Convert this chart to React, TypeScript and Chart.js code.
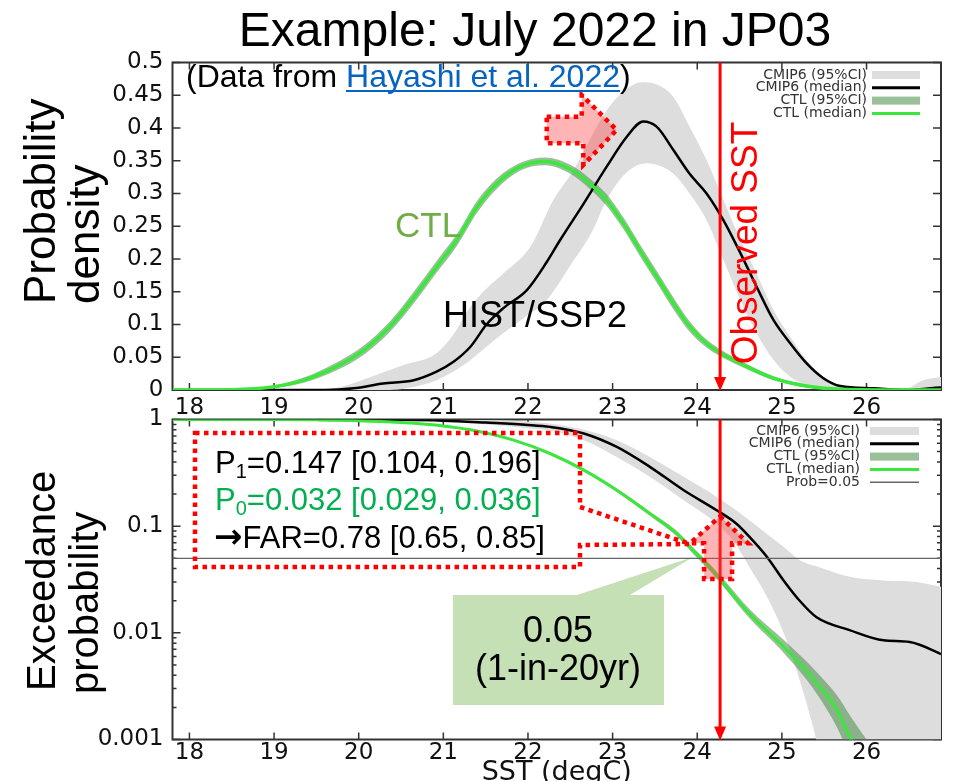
import React, { useEffect, useRef } from 'react';
import { Chart, registerables } from 'chart.js';

Chart.register(...registerables);

// ---------------- axes / constants ----------------
const X_MIN = 17.8;
const X_MAX = 26.88;
const X_TICKS = [18, 19, 20, 21, 22, 23, 24, 25, 26];
const PDF_TICKS = [0, 0.05, 0.1, 0.15, 0.2, 0.25, 0.3, 0.35, 0.4, 0.45, 0.5];
const PDF_TICK_LABELS = ['0', '0.05', '0.1', '0.15', '0.2', '0.25', '0.3', '0.35', '0.4', '0.45', '0.5'];
const EXC_DECADES = [0.001, 0.01, 0.1, 1];
const EXC_DECADE_LABELS = ['0.001', '0.01', '0.1', '1'];
const EXC_MINOR = [2, 3, 4, 5, 6, 7, 8, 9];

const OBS_SST = 24.27;
const PROB_THRESHOLD = 0.05;

const P1 = 0.147;
const P1_CI = [0.104, 0.196];
const P0 = 0.032;
const P0_CI = [0.029, 0.036];
const FAR = 0.78;
const FAR_CI = [0.65, 0.85];

// ---------------- top panel: probability density ----------------
const CTL_PDF_T = [17.8, 18.5, 19.0, 19.35, 19.74, 20.06, 20.37, 20.69, 20.92, 21.16, 21.4, 21.63, 21.91, 22.2, 22.5, 22.73, 22.93, 23.13, 23.32, 23.52, 23.72, 23.91, 24.11, 24.35, 24.58, 24.9, 25.29, 25.69, 26.2, 26.88];
const CTL_PDF_MED = [0, 0.0005, 0.005, 0.015, 0.036, 0.061, 0.097, 0.148, 0.188, 0.229, 0.28, 0.315, 0.341, 0.349, 0.337, 0.315, 0.29, 0.254, 0.214, 0.173, 0.132, 0.097, 0.071, 0.051, 0.036, 0.018, 0.006, 0.001, 0, 0];
const CTL_PDF_HI = [0, 0.001, 0.007, 0.019, 0.042, 0.068, 0.105, 0.157, 0.197, 0.238, 0.289, 0.323, 0.347, 0.355, 0.344, 0.323, 0.299, 0.263, 0.223, 0.182, 0.141, 0.105, 0.077, 0.056, 0.04, 0.021, 0.008, 0.002, 0, 0];
const CTL_PDF_LO = [0, 0, 0.003, 0.011, 0.03, 0.054, 0.089, 0.139, 0.179, 0.22, 0.271, 0.307, 0.335, 0.343, 0.33, 0.307, 0.281, 0.245, 0.205, 0.164, 0.123, 0.089, 0.065, 0.046, 0.032, 0.015, 0.004, 0.0003, 0, 0];

const CMIP_PDF_T = [17.8, 19.6, 19.94, 20.29, 20.65, 20.92, 21.12, 21.32, 21.51, 21.71, 21.99, 22.22, 22.38, 22.66, 22.93, 23.17, 23.36, 23.52, 23.72, 23.91, 24.11, 24.31, 24.51, 24.7, 24.9, 25.1, 25.29, 25.49, 25.69, 26.08, 26.47, 26.7, 26.88];
const CMIP_PDF_MED = [0, 0, 0.0025, 0.01, 0.015, 0.028, 0.043, 0.066, 0.1, 0.125, 0.153, 0.195, 0.229, 0.285, 0.341, 0.387, 0.41, 0.402, 0.366, 0.33, 0.3, 0.259, 0.209, 0.158, 0.107, 0.071, 0.041, 0.018, 0.006, 0.0025, 0, 0.002, 0.004];
const CMIP_PDF_HI_T = [17.8, 19.5, 19.8, 20.14, 20.53, 20.92, 21.12, 21.32, 21.51, 21.71, 22.03, 22.3, 22.54, 22.93, 23.15, 23.35, 23.55, 23.72, 23.91, 24.11, 24.31, 24.51, 24.7, 24.9, 25.1, 25.29, 25.49, 25.69, 26.08, 26.47, 26.67, 26.88];
const CMIP_PDF_HI = [0, 0, 0.005, 0.02, 0.038, 0.056, 0.085, 0.127, 0.155, 0.178, 0.219, 0.29, 0.336, 0.427, 0.458, 0.47, 0.465, 0.447, 0.402, 0.351, 0.29, 0.229, 0.178, 0.122, 0.081, 0.046, 0.02, 0.008, 0.003, 0.003, 0.015, 0.02];
const CMIP_PDF_LO_T = [17.8, 20.3, 20.53, 20.92, 21.24, 21.51, 21.71, 21.95, 22.22, 22.5, 22.75, 22.93, 23.15, 23.4, 23.6, 23.72, 23.91, 24.11, 24.31, 24.51, 24.7, 24.9, 25.1, 25.29, 25.49, 25.69, 26.88];
const CMIP_PDF_LO = [0, 0, 0.002, 0.015, 0.038, 0.066, 0.087, 0.11, 0.137, 0.19, 0.24, 0.29, 0.33, 0.346, 0.34, 0.33, 0.3, 0.259, 0.198, 0.137, 0.087, 0.046, 0.02, 0.008, 0.003, 0, 0];

// ---------------- bottom panel: exceedance probability ----------------
const CMIP_EXC_T = [17.8, 19.5, 20.5, 21.0, 21.5, 22.0, 22.26, 22.66, 23.05, 23.44, 23.84, 24.23, 24.46, 24.62, 24.82, 25.02, 25.21, 25.41, 25.8, 26.2, 26.51, 26.83, 26.88];
const CMIP_EXC_MED = [1, 1, 0.993, 0.975, 0.935, 0.89, 0.853, 0.74, 0.553, 0.36, 0.217, 0.141, 0.106, 0.079, 0.052, 0.031, 0.02, 0.014, 0.0106, 0.0085, 0.0082, 0.0066, 0.0063];
const CMIP_EXC_HI_T = [17.8, 21.5, 22.0, 22.26, 22.66, 23.05, 23.44, 23.84, 24.23, 24.46, 24.82, 25.02, 25.21, 25.41, 25.8, 26.2, 26.59, 26.88];
const CMIP_EXC_HI = [1, 0.99, 0.955, 0.917, 0.8, 0.64, 0.446, 0.29, 0.188, 0.141, 0.085, 0.064, 0.048, 0.042, 0.0335, 0.031, 0.03, 0.027];
const CMIP_EXC_LO_T = [17.8, 20.5, 21.0, 21.5, 22.0, 22.26, 22.66, 23.05, 23.44, 23.84, 24.23, 24.42, 24.62, 24.82, 25.02, 25.21, 25.37, 25.45, 25.6, 26.88];
const CMIP_EXC_LO = [1, 0.985, 0.955, 0.9, 0.83, 0.79, 0.64, 0.446, 0.29, 0.175, 0.106, 0.074, 0.041, 0.022, 0.01, 0.0036, 0.0013, 0.0007, 0.0002, 0.0001];

const CTL_EXC_T = [17.8, 19.0, 19.5, 20.0, 20.5, 21.0, 21.32, 21.83, 22.26, 22.66, 23.05, 23.44, 23.76, 23.96, 24.15, 24.31, 24.62, 25.02, 25.41, 25.65, 25.8, 26.0, 26.88];
const CTL_EXC_MED = [1, 0.998, 0.992, 0.975, 0.935, 0.87, 0.8, 0.64, 0.48, 0.335, 0.217, 0.131, 0.085, 0.058, 0.041, 0.029, 0.015, 0.0074, 0.0034, 0.0019, 0.00107, 0.0006, 0.00005];
const CTL_EXC_HI = [1, 0.998, 0.993, 0.977, 0.94, 0.88, 0.81, 0.652, 0.49, 0.345, 0.225, 0.137, 0.09, 0.062, 0.044, 0.032, 0.0166, 0.0086, 0.0043, 0.0026, 0.0017, 0.001, 0.0001];
const CTL_EXC_LO = [1, 0.997, 0.99, 0.972, 0.93, 0.86, 0.79, 0.628, 0.47, 0.325, 0.209, 0.125, 0.08, 0.054, 0.038, 0.027, 0.0136, 0.0065, 0.0027, 0.0013, 0.0007, 0.0003, 0.00002];

// ---------------- styles ----------------
const SANS = '"Liberation Sans", Arial, Helvetica, sans-serif';
const GP = '"DejaVu Sans", Verdana, sans-serif';
const GREEN = '#3ce63c';
const CTL_BAND = 'rgba(70,140,70,0.55)';
const CTL_BAND_SOLID = '#99c099';
const GREY_BAND = '#dddddd';
const RED = '#ff0000';
const PINK = 'rgba(255,70,70,0.4)';
const FRAME = '#333333';
const W = 966;
const H = 781;
const PLOT_LEFT = 172.5;
const PLOT_RIGHT_PAD = 25;
const TOP_PLOT_TOP = 62.5;
const TOP_PLOT_BOTTOM = 390;
const BOT_PLOT_TOP = 419.5;
const BOT_PLOT_BOTTOM = 739.5;
const TICK_FONT = 23;

const pts = (xs: number[], ys: number[]) => xs.map((x, i) => ({ x, y: ys[i] }));

const LOG_TICKS: number[] = [];
EXC_DECADES.forEach((d, i) => {
  LOG_TICKS.push(d);
  if (i < EXC_DECADES.length - 1) EXC_MINOR.forEach((k) => LOG_TICKS.push(+(d * k).toPrecision(6)));
});

// ---------------- drawing helpers ----------------
function drawFrame(chart: any) {
  const { ctx, chartArea: a } = chart;
  const xs = chart.scales.x;
  const ys = chart.scales.y;
  ctx.save();
  ctx.strokeStyle = FRAME;
  ctx.lineWidth = 1.5;
  ctx.beginPath();
  xs.ticks.forEach((t: any) => {
    const p = xs.getPixelForValue(t.value);
    ctx.moveTo(p, a.bottom);
    ctx.lineTo(p, a.bottom - 7);
    ctx.moveTo(p, a.top);
    ctx.lineTo(p, a.top + 7);
  });
  ys.ticks.forEach((t: any) => {
    const p = ys.getPixelForValue(t.value);
    const len = t.label === '' ? 4 : 8;
    ctx.moveTo(a.left, p);
    ctx.lineTo(a.left + len, p);
    ctx.moveTo(a.right, p);
    ctx.lineTo(a.right - len, p);
  });
  ctx.stroke();
  ctx.lineWidth = 2;
  ctx.strokeRect(a.left, a.top, a.right - a.left, a.bottom - a.top);
  ctx.restore();
}

function txt(ctx: CanvasRenderingContext2D, s: string, x: number, y: number, font: string, color: string, align: CanvasTextAlign = 'left', baseline: CanvasTextBaseline = 'alphabetic') {
  ctx.save();
  ctx.font = font;
  ctx.fillStyle = color;
  ctx.textAlign = align;
  ctx.textBaseline = baseline;
  ctx.fillText(s, x, y);
  ctx.restore();
}

function vtxt(ctx: CanvasRenderingContext2D, s: string, x: number, y: number, font: string, color: string, align: CanvasTextAlign = 'left') {
  ctx.save();
  ctx.translate(x, y);
  ctx.rotate(-Math.PI / 2);
  ctx.font = font;
  ctx.fillStyle = color;
  ctx.textAlign = align;
  ctx.textBaseline = 'alphabetic';
  ctx.fillText(s, 0, 0);
  ctx.restore();
}

function dotted(ctx: CanvasRenderingContext2D, p: number[][], fill?: string) {
  ctx.save();
  ctx.beginPath();
  p.forEach(([x, y], i) => (i ? ctx.lineTo(x, y) : ctx.moveTo(x, y)));
  ctx.closePath();
  if (fill) {
    ctx.fillStyle = fill;
    ctx.fill();
  }
  ctx.setLineDash([4.5, 4.5]);
  ctx.lineWidth = 4.5;
  ctx.strokeStyle = RED;
  ctx.stroke();
  ctx.restore();
}

function obsLine(chart: any) {
  const { ctx, chartArea: a } = chart;
  const px = chart.scales.x.getPixelForValue(OBS_SST);
  ctx.save();
  ctx.strokeStyle = RED;
  ctx.lineWidth = 3;
  ctx.beginPath();
  ctx.moveTo(px, a.top);
  ctx.lineTo(px, a.bottom - 10);
  ctx.stroke();
  ctx.fillStyle = RED;
  ctx.beginPath();
  ctx.moveTo(px - 6, a.bottom - 13);
  ctx.lineTo(px + 6, a.bottom - 13);
  ctx.lineTo(px, a.bottom + 1);
  ctx.closePath();
  ctx.fill();
  ctx.restore();
  return px;
}

type LegendItem = { text: string; kind: 'box' | 'line'; color: string; w?: number };

function drawLegend(ctx: CanvasRenderingContext2D, items: LegendItem[], textRight: number, sx0: number, sx1: number, y0: number, step: number) {
  ctx.save();
  ctx.font = `14px ${GP}`;
  ctx.textAlign = 'right';
  ctx.textBaseline = 'middle';
  items.forEach((it, i) => {
    const y = y0 + i * step;
    ctx.fillStyle = '#333';
    ctx.fillText(it.text, textRight, y);
    if (it.kind === 'box') {
      ctx.fillStyle = it.color;
      ctx.fillRect(sx0, y - 4, sx1 - sx0, 8);
    } else {
      ctx.strokeStyle = it.color;
      ctx.lineWidth = it.w || 3;
      ctx.beginPath();
      ctx.moveTo(sx0, y);
      ctx.lineTo(sx1, y);
      ctx.stroke();
    }
  });
  ctx.restore();
}

type Part = { t: string; sub?: boolean; font?: string };

function richLine(ctx: CanvasRenderingContext2D, parts: Part[], x: number, y: number, size: number, color: string) {
  ctx.save();
  ctx.fillStyle = color;
  ctx.textBaseline = 'alphabetic';
  let cx = x;
  parts.forEach((p) => {
    ctx.font = p.font ? p.font : `${p.sub ? 20 : size}px ${SANS}`;
    ctx.fillText(p.t, cx, p.sub ? y + 5 : y);
    cx += ctx.measureText(p.t).width;
  });
  ctx.restore();
}

// ---------------- plugins ----------------
const topDecor = {
  id: 'topDecor',
  beforeDatasetsDraw(chart: any) {
    drawFrame(chart);
  },
  afterDatasetsDraw(chart: any) {
    const ctx: CanvasRenderingContext2D = chart.ctx;
    // red arrow (shift to the right)
    dotted(ctx, [[546.7, 116.7], [581.7, 116.7], [581.7, 95], [616.7, 130], [583.3, 165], [583.3, 143.3], [546.7, 143.3]], PINK);
    const px = obsLine(chart);
    vtxt(ctx, 'Observed SST', px + 37, 243, `37px ${SANS}`, RED, 'center');
    // title
    txt(ctx, 'Example: July 2022 in JP03', 535, 46, `48px ${SANS}`, '#000', 'center');
    // data source
    ctx.save();
    ctx.font = `32px ${SANS}`;
    const a1 = '(Data from ';
    const a2 = 'Hayashi et al. 2022';
    const x0 = 186;
    const yb = 87;
    ctx.fillStyle = '#000';
    ctx.fillText(a1, x0, yb);
    const w1 = ctx.measureText(a1).width;
    ctx.fillStyle = '#0563c1';
    ctx.fillText(a2, x0 + w1, yb);
    const w2 = ctx.measureText(a2).width;
    ctx.fillRect(x0 + w1, yb + 3, w2, 2);
    ctx.fillStyle = '#000';
    ctx.fillText(')', x0 + w1 + w2, yb);
    ctx.restore();
    // labels
    txt(ctx, 'CTL', 395, 237, `35px ${SANS}`, '#70ad47');
    txt(ctx, 'HIST/SSP2', 443, 327, `36px ${SANS}`, '#000');
    vtxt(ctx, 'Probability', 55, 304, `44px ${SANS}`, '#000');
    vtxt(ctx, 'density', 99, 304, `44px ${SANS}`, '#000');
    drawLegend(ctx, [
      { text: 'CMIP6 (95%CI)', kind: 'box', color: GREY_BAND },
      { text: 'CMIP6 (median)', kind: 'line', color: '#000', w: 3 },
      { text: 'CTL (95%CI)', kind: 'box', color: CTL_BAND_SOLID },
      { text: 'CTL (median)', kind: 'line', color: GREEN, w: 3 },
    ], 867, 872, 920, 75, 12.8);
  },
};

const botDecor = {
  id: 'botDecor',
  beforeDatasetsDraw(chart: any) {
    const ctx: CanvasRenderingContext2D = chart.ctx;
    drawFrame(chart);
    // green callout "0.05 (1-in-20yr)"
    ctx.save();
    ctx.fillStyle = '#c5e0b4';
    ctx.beginPath();
    ctx.moveTo(453, 595);
    ctx.lineTo(577, 595);
    ctx.lineTo(693, 557);
    ctx.lineTo(630, 595);
    ctx.lineTo(664, 595);
    ctx.lineTo(664, 705);
    ctx.lineTo(453, 705);
    ctx.closePath();
    ctx.fill();
    ctx.restore();
  },
  afterDatasetsDraw(chart: any) {
    const ctx: CanvasRenderingContext2D = chart.ctx;
    const ys = chart.scales.y;
    const px = obsLine(chart);
    // up-pointing arrow at observed SST
    const yTip = ys.getPixelForValue(P1) + 8;
    const ySh = ys.getPixelForValue(PROB_THRESHOLD) - 15;
    const yBase = ys.getPixelForValue(P0);
    dotted(ctx, [[px, yTip], [px + 28, ySh], [px + 12, ySh], [px + 12, yBase], [px - 16, yBase], [px - 16, ySh], [px - 30, ySh]], PINK);
    // dotted callout box
    dotted(ctx, [[195, 433], [580, 433], [580, 507], [690, 544], [580, 545], [580, 567], [195, 567]]);
    richLine(ctx, [{ t: 'P' }, { t: '1', sub: true }, { t: `=${P1.toFixed(3)} [${P1_CI[0].toFixed(3)}, ${P1_CI[1].toFixed(3)}]` }], 215, 473, 31, '#000');
    richLine(ctx, [{ t: 'P' }, { t: '0', sub: true }, { t: `=${P0.toFixed(3)} [${P0_CI[0].toFixed(3)}, ${P0_CI[1].toFixed(3)}]` }], 215, 510, 31, '#00b050');
    richLine(ctx, [
      { t: '\u2192', font: `bold 34px ${GP}` },
      { t: `FAR=${FAR.toFixed(2)} [${FAR_CI[0].toFixed(2)}, ${FAR_CI[1].toFixed(2)}]` },
    ], 214, 548, 31, '#000');
    txt(ctx, PROB_THRESHOLD.toFixed(2), 558, 642, `36px ${SANS}`, '#000', 'center');
    txt(ctx, '(1-in-20yr)', 558, 680, `36px ${SANS}`, '#000', 'center');
    vtxt(ctx, 'Exceedance', 55, 691, `40px ${SANS}`, '#000');
    vtxt(ctx, 'probability', 98, 694, `40px ${SANS}`, '#000');
    drawLegend(ctx, [
      { text: 'CMIP6 (95%CI)', kind: 'box', color: GREY_BAND },
      { text: 'CMIP6 (median)', kind: 'line', color: '#000', w: 3 },
      { text: 'CTL (95%CI)', kind: 'box', color: CTL_BAND_SOLID },
      { text: 'CTL (median)', kind: 'line', color: GREEN, w: 3 },
      { text: 'Prob=0.05', kind: 'line', color: '#666', w: 1.5 },
    ], 860, 870, 919, 431, 12.8);
  },
};

// ---------------- chart configs ----------------
function xScale(height: number, padding: number, withTitle: boolean) {
  return {
    type: 'linear',
    min: X_MIN,
    max: X_MAX,
    afterBuildTicks: (s: any) => {
      s.ticks = X_TICKS.map((v) => ({ value: v }));
    },
    afterFit: (s: any) => {
      s.height = height;
    },
    grid: { display: false, drawTicks: false },
    border: { display: false },
    ticks: {
      font: { family: GP, size: TICK_FONT },
      color: '#111',
      padding,
      maxRotation: 0,
      minRotation: 0,
      autoSkip: false,
      callback: (v: number) => String(v),
    },
    title: withTitle
      ? { display: true, text: 'SST (degC)', font: { family: GP, size: 27, lineHeight: 1 }, color: '#111', padding: { top: 0, bottom: -5 } }
      : { display: false },
  };
}

const lineDs = (label: string, data: any[], color: string, width: number) => ({
  label,
  data,
  borderColor: color,
  borderWidth: width,
  fill: false,
  pointRadius: 0,
  cubicInterpolationMode: 'monotone',
});

const bandDs = (label: string, data: any[], color: string | null) => ({
  label,
  data,
  borderColor: 'rgba(0,0,0,0)',
  borderWidth: 1,
  backgroundColor: color || 'rgba(0,0,0,0)',
  fill: color ? '+1' : false,
  pointRadius: 0,
  cubicInterpolationMode: 'monotone',
});

function yLinear() {
  return {
    type: 'linear',
    min: 0,
    max: 0.5,
    afterBuildTicks: (s: any) => {
      s.ticks = PDF_TICKS.map((v) => ({ value: v }));
    },
    afterFit: (s: any) => {
      s.width = PLOT_LEFT;
    },
    grid: { display: false, drawTicks: false },
    border: { display: false },
    ticks: {
      font: { family: GP, size: TICK_FONT },
      color: '#111',
      padding: 9,
      autoSkip: false,
      callback: (_v: number, i: number) => PDF_TICK_LABELS[i],
    },
  };
}

function yLog() {
  return {
    type: 'logarithmic',
    min: 0.001,
    max: 1,
    afterBuildTicks: (s: any) => {
      s.ticks = LOG_TICKS.map((v) => ({ value: v }));
    },
    afterFit: (s: any) => {
      s.width = PLOT_LEFT;
    },
    grid: { display: false, drawTicks: false },
    border: { display: false },
    ticks: {
      font: { family: GP, size: TICK_FONT },
      color: '#111',
      padding: 9,
      autoSkip: false,
      callback: (v: number) => {
        const i = EXC_DECADES.findIndex((d) => Math.abs(d - v) < d * 1e-6);
        return i >= 0 ? EXC_DECADE_LABELS[i] : '';
      },
    },
  };
}

function topConfig(): any {
  return {
    type: 'line',
    data: {
      datasets: [
        lineDs('CTL (median)', pts(CTL_PDF_T, CTL_PDF_MED), GREEN, 3.5),
        lineDs('CMIP6 (median)', pts(CMIP_PDF_T, CMIP_PDF_MED), '#000', 2.5),
        bandDs('CTL (95%CI) upper', pts(CTL_PDF_T, CTL_PDF_HI), CTL_BAND),
        bandDs('CTL (95%CI) lower', pts(CTL_PDF_T, CTL_PDF_LO), null),
        bandDs('CMIP6 (95%CI) upper', pts(CMIP_PDF_HI_T, CMIP_PDF_HI), GREY_BAND),
        bandDs('CMIP6 (95%CI) lower', pts(CMIP_PDF_LO_T, CMIP_PDF_LO), null),
      ],
    },
    options: {
      animation: false,
      responsive: false,
      devicePixelRatio: 1,
      events: [],
      layout: { padding: { left: 0, top: TOP_PLOT_TOP, right: PLOT_RIGHT_PAD, bottom: H - TOP_PLOT_BOTTOM - 35 } },
      plugins: { legend: { display: false }, tooltip: { enabled: false } },
      scales: { x: xScale(35, 4, false), y: yLinear() },
    },
    plugins: [topDecor],
  };
}

function bottomConfig(): any {
  return {
    type: 'line',
    data: {
      datasets: [
        lineDs('Prob=0.05', [{ x: X_MIN, y: PROB_THRESHOLD }, { x: X_MAX, y: PROB_THRESHOLD }], '#666', 1.3),
        lineDs('CTL (median)', pts(CTL_EXC_T, CTL_EXC_MED), GREEN, 3),
        lineDs('CMIP6 (median)', pts(CMIP_EXC_T, CMIP_EXC_MED), '#000', 2.5),
        bandDs('CTL (95%CI) upper', pts(CTL_EXC_T, CTL_EXC_HI), CTL_BAND),
        bandDs('CTL (95%CI) lower', pts(CTL_EXC_T, CTL_EXC_LO), null),
        bandDs('CMIP6 (95%CI) upper', pts(CMIP_EXC_HI_T, CMIP_EXC_HI), GREY_BAND),
        bandDs('CMIP6 (95%CI) lower', pts(CMIP_EXC_LO_T, CMIP_EXC_LO), null),
      ],
    },
    options: {
      animation: false,
      responsive: false,
      devicePixelRatio: 1,
      events: [],
      layout: { padding: { left: 0, top: BOT_PLOT_TOP, right: PLOT_RIGHT_PAD, bottom: 0 } },
      plugins: { legend: { display: false }, tooltip: { enabled: false } },
      scales: { x: xScale(H - BOT_PLOT_BOTTOM, 0, true), y: yLog() },
    },
    plugins: [botDecor],
  };
}

export default function App() {
  const topRef = useRef<HTMLCanvasElement>(null);
  const botRef = useRef<HTMLCanvasElement>(null);
  useEffect(() => {
    const c1 = new Chart(topRef.current as HTMLCanvasElement, topConfig());
    const c2 = new Chart(botRef.current as HTMLCanvasElement, bottomConfig());
    return () => {
      c1.destroy();
      c2.destroy();
    };
  }, []);
  const cs: React.CSSProperties = { position: 'absolute', left: 0, top: 0, width: W, height: H };
  return (
    <div style={{ position: 'fixed', left: 0, top: 0, width: W, height: H, overflow: 'hidden', background: '#fff' }}>
      <canvas ref={topRef} width={W} height={H} style={cs} />
      <canvas ref={botRef} width={W} height={H} style={cs} />
    </div>
  );
}
